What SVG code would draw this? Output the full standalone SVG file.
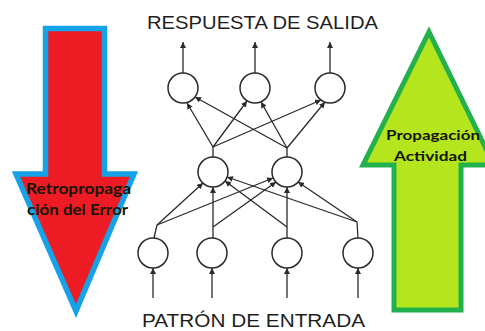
<svg xmlns="http://www.w3.org/2000/svg" width="485" height="331" viewBox="0 0 485 331">
<style>
.lbl{font-family:"Liberation Sans",Arial,sans-serif;font-size:18px;fill:#1e1e1e}
.arr{font-family:Lato,"Open Sans",sans-serif;font-weight:bold;fill:#151505}
.node{fill:#fff;stroke:#2a2a2a;stroke-width:1.5}
.edge{stroke:#2a2a2a;stroke-width:1.3;fill:none}
.ea{marker-end:url(#ah)}
</style>
<defs>
<marker id="ah" markerUnits="userSpaceOnUse" markerWidth="7" markerHeight="6" refX="6" refY="3" orient="auto">
<path d="M0,0 L6,3 L0,6 Z" fill="#2a2a2a"/>
</marker>
</defs>
<rect width="485" height="331" fill="#fff"/>
<g id="retro">
<path d="M45.5,28.5 H104.5 V174 H134 L76,311 L16,174 H45.5 Z" fill="#ed1c24" stroke="#16a2e6" stroke-width="5.5" stroke-linejoin="miter" stroke-miterlimit="10"/>
<text class="arr" x="26" y="194" font-size="14.5" textLength="105" lengthAdjust="spacingAndGlyphs">Retropropaga</text>
<text class="arr" x="27" y="215" font-size="14.5" textLength="101" lengthAdjust="spacingAndGlyphs">ción del Error</text>
</g>
<g id="prop">
<path d="M429,32 L494,165 H461 V310 H394 V165 H363 Z" fill="#b5e61d" stroke="#22b14c" stroke-width="5" stroke-linejoin="miter" stroke-miterlimit="10"/>
<text class="arr" x="386" y="140" font-size="12.5" textLength="94" lengthAdjust="spacingAndGlyphs">Propagación</text>
<text class="arr" x="394" y="161" font-size="12.5" textLength="73" lengthAdjust="spacingAndGlyphs">Actividad</text>
</g>
<text id="t-out" class="lbl" x="147" y="29" textLength="231" lengthAdjust="spacingAndGlyphs">RESPUESTA DE SALIDA</text>
<text id="t-in" class="lbl" x="142" y="327" textLength="223" lengthAdjust="spacingAndGlyphs">PATRÓN DE ENTRADA</text>
<g id="connectors">
<line class="edge ea" x1="183" y1="73" x2="183" y2="42"/>
<line class="edge ea" x1="255" y1="73" x2="255" y2="42"/>
<line class="edge ea" x1="330" y1="73" x2="330" y2="42"/>
<line class="edge" x1="213" y1="157" x2="213" y2="147"/>
<line class="edge" x1="287" y1="157" x2="287" y2="148"/>
<line class="edge ea" x1="213" y1="147" x2="187" y2="103"/>
<line class="edge ea" x1="213" y1="147" x2="247" y2="101"/>
<line class="edge ea" x1="213" y1="147" x2="321" y2="100"/>
<line class="edge ea" x1="287" y1="148" x2="195" y2="97"/>
<line class="edge ea" x1="287" y1="148" x2="261" y2="102"/>
<line class="edge ea" x1="287" y1="148" x2="325" y2="102"/>
<line class="edge" x1="154" y1="238" x2="157" y2="225"/>
<line class="edge" x1="213" y1="238" x2="213" y2="227"/>
<line class="edge" x1="287" y1="238" x2="287" y2="227"/>
<line class="edge" x1="358" y1="238" x2="357" y2="222"/>
<line class="edge ea" x1="157" y1="225" x2="203" y2="183"/>
<line class="edge ea" x1="157" y1="225" x2="273" y2="178"/>
<line class="edge ea" x1="213" y1="227" x2="213" y2="187"/>
<line class="edge ea" x1="213" y1="227" x2="276" y2="182"/>
<line class="edge ea" x1="287" y1="227" x2="287" y2="187"/>
<line class="edge ea" x1="287" y1="227" x2="225" y2="181"/>
<line class="edge ea" x1="357" y1="222" x2="227" y2="177"/>
<line class="edge ea" x1="357" y1="222" x2="298" y2="182"/>
<line class="edge ea" x1="153" y1="298" x2="153" y2="268"/>
<line class="edge ea" x1="212" y1="298" x2="212" y2="268"/>
<line class="edge ea" x1="287" y1="298" x2="287" y2="268"/>
<line class="edge ea" x1="358" y1="298" x2="358" y2="268"/>
</g>
<g id="o1"><circle class="node" cx="183" cy="88" r="15"/></g>
<g id="o2"><circle class="node" cx="255" cy="88" r="15"/></g>
<g id="o3"><circle class="node" cx="330" cy="88" r="15"/></g>
<g id="h1"><circle class="node" cx="213" cy="172" r="15"/></g>
<g id="h2"><circle class="node" cx="287" cy="172" r="15"/></g>
<g id="i1"><circle class="node" cx="153" cy="253" r="15"/></g>
<g id="i2"><circle class="node" cx="212" cy="253" r="15"/></g>
<g id="i3"><circle class="node" cx="287" cy="253" r="15"/></g>
<g id="i4"><circle class="node" cx="358" cy="253" r="15"/></g>
</svg>
